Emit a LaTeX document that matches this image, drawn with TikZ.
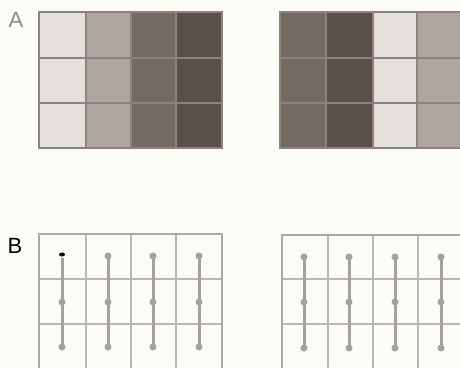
\documentclass[tikz,border=0pt]{standalone}
\usepackage{fontspec}
\usetikzlibrary{shapes.geometric}
\setmainfont{Liberation Sans}
\definecolor{bg}{HTML}{FCFCF6}
\definecolor{cA}{HTML}{E3E0DC}
\definecolor{cB}{HTML}{ADA6A1}
\definecolor{cC}{HTML}{736A62}
\definecolor{cD}{HTML}{5B4F49}
\definecolor{gridA}{HTML}{8C8282}
\definecolor{gridB}{HTML}{BDB4B5}
\definecolor{frameB}{HTML}{B0A6A8}
\definecolor{barB}{HTML}{A89FA1}
\definecolor{labA}{HTML}{8E8A8A}
\tikzset{
  gridlineA/.style={draw=gridA, line width=1.5pt},
  gridlineB/.style={draw=gridB, line width=1.7pt},
  frameBst/.style={draw=frameB, line width=2.2pt},
  barst/.style={draw=barB, line width=3pt},
  dotst/.style={fill=barB, draw=none, circle, inner sep=0pt, minimum size=7pt},
  lab/.style={font=\fontsize{22}{22}\selectfont, inner sep=0pt, anchor=center}
}
\begin{document}
\begin{tikzpicture}[x=1pt,y=-1pt]
\fill[bg] (0,0) rectangle (460,367);
\useasboundingbox (0,0) rectangle (460,367);
% Panel A left
\fill[cA] (39,12) rectangle (86,148);
\fill[cB] (86,12) rectangle (131,148);
\fill[cC] (131,12) rectangle (176,148);
\fill[cD] (176,12) rectangle (222,148);
\draw[gridlineA] (39,58) -- (222,58);
\draw[gridlineA] (39,103) -- (222,103);
\draw[gridlineA] (86,12) -- (86,148);
\draw[gridlineA] (131,12) -- (131,148);
\draw[gridlineA] (176,12) -- (176,148);
\draw[gridlineA] (39,12) rectangle (222,148);
% Panel A right
\fill[cC] (280,12) rectangle (326,148);
\fill[cD] (326,12) rectangle (373,148);
\fill[cA] (373,12) rectangle (417,148);
\fill[cB] (417,12) rectangle (461,148);
\draw[gridlineA] (280,58) -- (461,58);
\draw[gridlineA] (280,103) -- (461,103);
\draw[gridlineA] (326,12) -- (326,148);
\draw[gridlineA] (373,12) -- (373,148);
\draw[gridlineA] (417,12) -- (417,148);
\draw[gridlineA] (461,12) -- (280,12) -- (280,148) -- (461,148);
% Labels
\node[lab, text=labA] (labA) at (16,20) {A};
\node[lab, text=black] (labB) at (15,245.5) {B};
% Panel B left
\draw[gridlineB] (39,279) -- (222,279);
\draw[gridlineB] (39,324) -- (222,324);
\draw[gridlineB] (86,234) -- (86,368);
\draw[gridlineB] (131,234) -- (131,368);
\draw[gridlineB] (176,234) -- (176,368);
\draw[frameBst] (39,368) -- (39,234) -- (222,234) -- (222,368);
\foreach \x [count=\i] in {62,108,153,199}{
  \draw[barst] (\x,258) -- (\x,347);
  \foreach \y in {302,347} \node[dotst] (bl\i-\y) at (\x,\y) {};
}
\foreach \x [count=\i] in {108,153,199}{
  \node[dotst] (blt\i) at (\x,256) {};
}
\node[fill=black, draw=none, ellipse, inner sep=0pt, minimum width=6pt, minimum height=4pt] (blk) at (62,254.5) {};
% Panel B right
\draw[gridlineB] (282,279) -- (461,279);
\draw[gridlineB] (282,324) -- (461,324);
\draw[gridlineB] (328,235) -- (328,368);
\draw[gridlineB] (373,235) -- (373,368);
\draw[gridlineB] (418,235) -- (418,368);
\draw[frameBst] (282,368) -- (282,235) -- (461,235);
\foreach \x [count=\i] in {304,349,395,441}{
  \draw[barst] (\x,257) -- (\x,348);
  \foreach \y in {257,302,348} \node[dotst] (br\i-\y) at (\x,\y) {};
}
\end{tikzpicture}
\end{document}
